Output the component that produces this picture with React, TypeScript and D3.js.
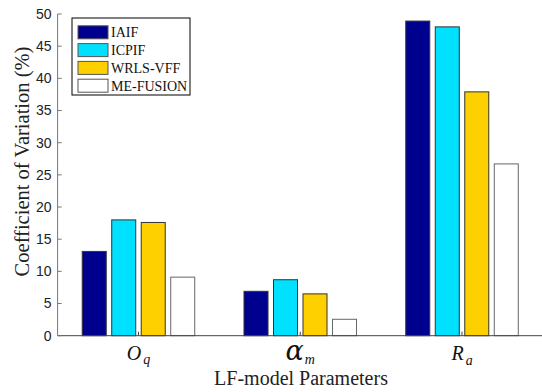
import React from "react";
import * as d3 from "d3";

const categories = ["Oq", "am", "Ra"];
const seriesNames = ["IAIF", "ICPIF", "WRLS-VFF", "ME-FUSION"];
const iaif = [13.1, 6.9, 48.9];
const icpif = [18.0, 8.7, 48.0];
const wrls = [17.6, 6.5, 37.9];
const meFusion = [9.1, 2.55, 26.7];
const yTicks = [0, 5, 10, 15, 20, 25, 30, 35, 40, 45, 50];
const colors = ["#00008f", "#00e1ff", "#ffd000", "#ffffff"];

const seriesValues = [iaif, icpif, wrls, meFusion];

const W = 542;
const H = 392;
const x0 = 57.6;
const x1 = 542.9;
const yBase = 335.7;
const yTop = 14;

export default function App() {
  const xOuter = d3.scaleBand<string>().domain(categories).range([x0, x1]).paddingInner(0).paddingOuter(0);
  const bw = xOuter.bandwidth();
  const xInner = d3
    .scaleBand<string>()
    .domain(seriesNames)
    .range([bw / 2 - 59, bw / 2 + 59])
    .paddingInner(0.186)
    .paddingOuter(0.093);
  const y = d3.scaleLinear().domain([0, 50]).range([yBase, yTop]);

  const labelFor = (c: string, cx: number) => {
    const base = 360;
    if (c === "Oq")
      return (
        <text x={cx} y={base} textAnchor="middle" fontFamily="'Liberation Serif', serif" fontStyle="italic" fontSize={20} fill="#111">
          O<tspan fontSize={14} dx={2} dy={4}>q</tspan>
        </text>
      );
    if (c === "am")
      return (
        <text x={cx} y={base} textAnchor="middle" fontFamily="'DejaVu Serif', serif" fontStyle="italic" fontSize={27} fill="#111">
          α<tspan fontFamily="'Liberation Serif', serif" fontSize={14} dx={1} dy={4}>m</tspan>
        </text>
      );
    return (
      <text x={cx} y={base} textAnchor="middle" fontFamily="'Liberation Serif', serif" fontStyle="italic" fontSize={20} fill="#111">
        R<tspan fontSize={14} dx={2} dy={5}>a</tspan>
      </text>
    );
  };

  return (
    <svg width={W} height={H} style={{ position: "absolute", left: 0, top: 0, background: "#fff" }}>
      {categories.map((c, ci) => (
        <g key={c} transform={`translate(${xOuter(c)},0)`}>
          {seriesNames.map((s, si) => {
            const v = seriesValues[si][ci];
            return (
              <rect
                key={s}
                x={xInner(s)}
                y={y(v)}
                width={xInner.bandwidth()}
                height={yBase - y(v)}
                fill={colors[si]}
                stroke={si === 3 ? "#666" : "#333"}
                strokeWidth={1}
              />
            );
          })}
        </g>
      ))}
      <line x1={x0} x2={x0} y1={yTop} y2={yBase} stroke="#777" strokeWidth={1} />
      <line x1={x0} x2={W} y1={yBase} y2={yBase} stroke="#444" strokeWidth={1} />
      {yTicks.map((t) => (
        <g key={t}>
          <line x1={x0} x2={x0 + 4} y1={y(t)} y2={y(t)} stroke="#777" />
          <text
            x={x0 - 6}
            y={y(t)}
            dy="0.35em"
            textAnchor="end"
            fontFamily="'Liberation Sans', sans-serif"
            fontSize={14}
            fill="#222"
          >
            {t}
          </text>
        </g>
      ))}
      {categories.map((c) => {
        const cx = (xOuter(c) as number) + bw / 2;
        return (
          <g key={c}>
            <line x1={cx} x2={cx} y1={yBase} y2={yBase - 4} stroke="#444" />
            {labelFor(c, cx)}
          </g>
        );
      })}
      <text x={301} y={385} textAnchor="middle" fontFamily="'Liberation Serif', serif" fontSize={20} fill="#222">
        LF-model Parameters
      </text>
      <text
        transform={`translate(29,161.5) rotate(-90)`}
        textAnchor="middle"
        fontFamily="'Liberation Serif', serif"
        fontSize={20.5}
        fill="#222"
      >
        Coefficient of Variation (%)
      </text>
      <rect x={72} y={18} width={118} height={77} fill="#fff" stroke="#000" strokeWidth={1} />
      {seriesNames.map((s, i) => {
        const cy = 32.3 + i * 17.8;
        return (
          <g key={s}>
            <rect x={78} y={cy - 6.5} width={30} height={13} fill={colors[i]} stroke="#555" />
            <text x={111} y={cy} dy="0.35em" fontFamily="'Liberation Serif', serif" fontSize={14} fill="#111">
              {s}
            </text>
          </g>
        );
      })}
    </svg>
  );
}
